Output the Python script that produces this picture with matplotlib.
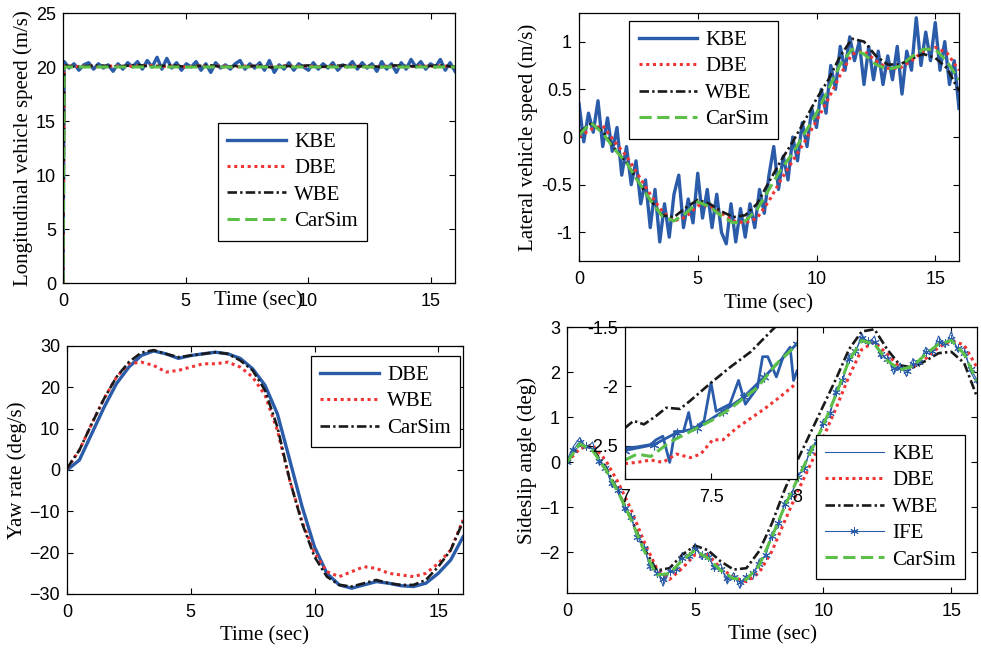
import numpy as np
import matplotlib
matplotlib.use("Agg")
import matplotlib.pyplot as plt

# colours picked off the figure
BLUE = "#2a5caa"
RED = "#f03434"
BLACK = "#1a1a1a"
GREEN = "#5cbf48"

SERIF = "Liberation Serif"
SANS = "Liberation Sans"

# ---------- data: longitudinal speed (m/s) ----------
t_long_kbe = np.r_[0.0, np.linspace(0.05, 16, 81)]
long_kbe = [0.0,
            20.5, 19.9, 20.3, 19.7, 20.2, 20.4, 19.8, 20.3, 19.9, 20.2,
            19.6, 20.3, 19.8, 20.4, 20.0, 20.5, 19.8, 20.6, 20.0, 20.9,
            19.8, 20.8, 19.9, 20.4, 19.7, 20.3, 20.0, 20.5, 19.7, 20.3,
            19.5, 20.4, 19.9, 20.2, 19.8, 20.3, 20.6, 19.8, 20.3, 19.9,
            20.4, 19.7, 20.6, 19.5, 20.2, 19.8, 20.4, 19.7, 20.3, 20.0,
            19.7, 20.4, 19.8, 20.3, 19.9, 20.4, 19.7, 20.2, 20.0, 20.5,
            19.8, 20.4, 19.9, 20.3, 19.6, 20.5, 19.8, 20.3, 19.5, 20.4,
            19.8, 20.7, 20.0, 20.5, 19.8, 20.3, 20.0, 20.7, 19.7, 20.4, 19.6]
t_long = np.r_[0.0, np.linspace(0.05, 16, 33)]
long_dbe = [0.0, 20.1, 20.05, 20.1, 20.0, 20.1, 20.05, 20.1, 20.15, 20.05, 20.1, 20.0,
            20.1, 20.05, 20.1, 20.0, 20.1, 20.05, 20.0, 20.1, 20.05, 20.1, 20.0,
            20.1, 20.05, 20.1, 20.0, 20.05, 20.1, 20.0, 20.1, 20.05, 20.1, 20.0]
long_wbe = [0.0, 20.15, 20.0, 20.1, 20.15, 20.05, 20.1, 20.2, 20.05, 20.1, 20.15, 20.0,
            20.1, 20.15, 20.0, 20.1, 20.05, 20.15, 19.95, 20.1, 20.05, 20.15, 20.0,
            20.1, 20.15, 20.05, 20.1, 20.0, 20.15, 20.1, 20.05, 20.1, 20.15, 20.0]
long_carsim = [0.0, 20.0, 20.0, 20.0, 20.0, 20.0, 20.0, 20.0, 20.0, 20.0, 20.0, 20.0,
               20.0, 20.0, 20.0, 20.0, 20.0, 20.0, 20.0, 20.0, 20.0, 20.0, 20.0,
               20.0, 20.0, 20.0, 20.0, 20.0, 20.0, 20.0, 20.0, 20.0, 20.0, 20.0]

# ---------- data: lateral speed (m/s) ----------
t_half = np.linspace(0, 16, 33)
t_kbe = np.linspace(0, 16, 81)
lat_kbe = [0.35, -0.05, 0.25, 0.05, 0.38, -0.1, 0.2, -0.15, 0.1, -0.4,
           -0.1, -0.5, -0.25, -0.7, -0.45, -0.95, -0.55, -1.1, -0.7, -1.05,
           -0.6, -0.4, -0.95, -0.65, -0.9, -0.38, -0.85, -0.55, -0.95, -0.6,
           -1.0, -1.12, -0.7, -1.1, -0.75, -1.05, -0.7, -0.95, -0.55, -0.8,
           -0.4, -0.1, -0.55, -0.2, -0.45, 0.0, -0.25, 0.15, -0.1, 0.3,
           0.1, 0.5, 0.25, 0.75, 0.5, 0.95, 0.7, 1.05, 0.8, 1.0,
           0.55, 0.95, 0.6, 0.9, 0.55, 0.85, 0.6, 0.95, 0.45, 0.9,
           0.7, 1.25, 0.75, 1.1, 0.8, 1.2, 0.7, 1.0, 0.55, 0.8, 0.3]
lat_dbe = [0.0, 0.08, 0.12, -0.05, -0.2, -0.4, -0.6, -0.78, -0.88, -0.84, -0.72,
           -0.72, -0.8, -0.88, -0.9, -0.85, -0.67, -0.45, -0.25, -0.05, 0.17,
           0.4, 0.65, 0.87, 0.9, 0.8, 0.72, 0.72, 0.8, 0.9, 0.94, 0.88, 0.7]
lat_wbe = [0.05, 0.14, 0.06, -0.12, -0.27, -0.47, -0.66, -0.82, -0.84, -0.74, -0.66,
           -0.7, -0.78, -0.84, -0.82, -0.7, -0.47, -0.25, -0.05, 0.17, 0.4,
           0.6, 0.85, 1.03, 1.0, 0.85, 0.76, 0.76, 0.82, 0.87, 0.83, 0.72, 0.48]
lat_carsim = [0.02, 0.15, 0.04, -0.13, -0.27, -0.47, -0.66, -0.83, -0.88, -0.8, -0.68,
              -0.73, -0.83, -0.9, -0.88, -0.76, -0.55, -0.34, -0.17, 0.04, 0.25,
              0.5, 0.76, 0.92, 0.87, 0.76, 0.71, 0.74, 0.84, 0.92, 0.92, 0.79, 0.6]

# ---------- data: yaw rate (deg/s) ----------
yaw_dbe = [0.0, 2.4, 8.8, 15.2, 20.9, 24.9, 27.7, 28.8, 28.1, 27.0, 27.7,
           28.1, 28.5, 28.1, 27.0, 24.5, 20.5, 13.6, 2.4, -8.9, -18.6,
           -25.0, -27.8, -28.6, -27.8, -27.0, -27.4, -28.0, -28.2, -27.4, -25.0, -21.8, -16.2]
yaw_wbe = [0.4, 4.8, 11.2, 17.3, 22.5, 25.7, 26.1, 25.3, 23.7, 24.1, 24.9,
           25.7, 25.7, 26.1, 24.9, 22.5, 18.1, 9.6, -2.5, -12.5, -20.1,
           -24.6, -25.8, -24.6, -23.4, -23.8, -25.0, -25.4, -25.8, -25.0, -22.6, -19.4, -12.1]
yaw_carsim = [0.4, 4.8, 11.2, 17.3, 22.5, 26.1, 28.4, 29.0, 28.1, 27.3, 27.7,
              28.1, 28.5, 28.1, 26.5, 24.1, 19.3, 10.4, -2.5, -12.9, -21.0,
              -25.8, -27.8, -28.2, -27.4, -26.6, -27.4, -27.8, -27.8, -26.6, -23.4, -19.4, -12.5]

# ---------- data: sideslip angle (deg) ----------
t_quarter = np.linspace(0, 16, 65)
slip_kbe = [0.05, 0.35, 0.55, 0.3, 0.45, -0.05, -0.05, -0.55, -0.55, -1.1,
            -1.15, -1.75, -1.8, -2.4, -2.35, -2.75, -2.4, -2.45, -2.0, -2.15,
            -1.8, -2.15, -2.0, -2.4, -2.25, -2.7, -2.45, -2.8, -2.5, -2.6,
            -2.15, -2.1, -1.55, -1.45, -0.85, -0.8, -0.25, -0.2, 0.35, 0.4,
            0.95, 1.0, 1.65, 1.75, 2.4, 2.4, 2.85, 2.6, 2.8, 2.3,
            2.4, 1.95, 2.2, 1.9, 2.3, 2.15, 2.55, 2.4, 2.8, 2.55,
            2.9, 2.45, 2.55, 2.0, 1.75]
slip_ife = [0.0, 0.28, 0.45, 0.35, 0.3, 0.02, -0.12, -0.45, -0.62, -1.02,
            -1.22, -1.65, -1.9, -2.3, -2.45, -2.6, -2.42, -2.36, -2.12, -2.08,
            -1.92, -2.06, -2.1, -2.32, -2.37, -2.56, -2.55, -2.66, -2.55, -2.45,
            -2.25, -2.05, -1.64, -1.35, -0.93, -0.72, -0.33, -0.12, 0.26, 0.47,
            0.86, 1.1, 1.55, 1.83, 2.3, 2.47, 2.75, 2.68, 2.66, 2.4,
            2.28, 2.08, 2.08, 2.02, 2.17, 2.22, 2.44, 2.47, 2.66, 2.64,
            2.73, 2.53, 2.43, 2.07, 1.83]
slip_dbe = [0.0, 0.3, 0.38, 0.05, -0.45, -1.05, -1.75, -2.35, -2.6, -2.35, -2.05,
            -2.05, -2.35, -2.55, -2.65, -2.45, -1.97, -1.3, -0.65, -0.05, 0.55,
            1.2, 1.9, 2.5, 2.67, 2.4, 2.1, 2.1, 2.3, 2.55, 2.7, 2.6, 2.1]
slip_wbe = [0.0, 0.4, 0.3, -0.1, -0.65, -1.25, -1.9, -2.4, -2.35, -2.05, -1.85,
            -1.95, -2.2, -2.38, -2.35, -1.97, -1.35, -0.6, 0.05, 0.65, 1.25,
            1.85, 2.5, 2.9, 2.95, 2.5, 2.15, 2.1, 2.25, 2.42, 2.45, 2.2, 1.45]
slip_carsim = [0.0, 0.41, 0.26, -0.15, -0.67, -1.27, -1.95, -2.5, -2.47, -2.17, -1.95,
               -2.13, -2.4, -2.58, -2.6, -2.29, -1.65, -0.97, -0.37, 0.22, 0.82,
               1.5, 2.25, 2.7, 2.62, 2.25, 2.05, 2.13, 2.4, 2.62, 2.7, 2.4, 1.8]

# zoomed window 7-8 s
ins_t_kbe = [7.0, 7.07, 7.15, 7.18, 7.22, 7.26, 7.29, 7.34, 7.37, 7.39, 7.46, 7.5,
             7.53, 7.61, 7.66, 7.7, 7.77, 7.8, 7.83, 7.88, 7.92, 7.96, 7.98, 8.0]
ins_kbe = [-2.52, -2.51, -2.49, -2.45, -2.42, -2.64, -2.38, -2.38, -2.22, -2.37, -2.29, -1.97,
           -2.21, -2.15, -1.95, -2.15, -2.01, -1.75, -1.75, -1.92, -1.75, -1.67, -1.95, -1.87]
ins_t_ife = [7.0, 7.17, 7.3, 7.42, 7.57, 7.69, 7.81, 8.0]
ins_ife = [-2.54, -2.49, -2.39, -2.35, -2.21, -2.09, -1.92, -1.64]
ins_t_dbe = [7.0, 7.07, 7.15, 7.22, 7.3, 7.38, 7.44, 7.51, 7.57, 7.65, 7.73, 7.81, 7.9, 8.0]
ins_dbe = [-2.65, -2.64, -2.62, -2.64, -2.57, -2.6, -2.57, -2.45, -2.45, -2.35, -2.27, -2.19, -2.09, -1.97]
ins_t_wbe = [7.0, 7.05, 7.11, 7.18, 7.24, 7.32, 7.38, 7.5, 7.61, 7.73, 7.88, 8.0]
ins_wbe = [-2.35, -2.29, -2.32, -2.25, -2.18, -2.19, -2.12, -1.97, -1.84, -1.71, -1.49, -1.35]
ins_t_carsim = [7.0, 7.07, 7.15, 7.26, 7.38, 7.5, 7.61, 7.77, 7.88, 8.0]
ins_carsim = [-2.62, -2.57, -2.59, -2.47, -2.38, -2.29, -2.19, -2.01, -1.81, -1.65]

DASHDOT = (0, (3.6, 1.2, 0.9, 1.2))
DASHED = (0, (4, 1.8))
DOTTED = (0, (1, 1.2))

W, H = 981, 648
fig = plt.figure(figsize=(W / 100, H / 100), dpi=100)


def make_axes(left, top, right, bottom):
    return fig.add_axes([left / W, 1 - bottom / H, (right - left) / W, (bottom - top) / H])


def style(ax):
    ax.tick_params(direction="in", top=True, right=True, length=4, width=0.8,
                   labelsize=13)
    ax.tick_params(axis="x", pad=7)
    ax.tick_params(axis="y", pad=5)
    for lab in ax.get_xticklabels() + ax.get_yticklabels():
        lab.set_fontfamily(SANS)
    for sp in ax.spines.values():
        sp.set_linewidth(0.9)


def legend(ax, x, y):
    leg = ax.legend(loc="upper left", bbox_to_anchor=(x, y), borderaxespad=0,
                    prop={"family": SERIF, "size": 15}, fancybox=False,
                    edgecolor="black", framealpha=1, handlelength=2.8,
                    labelspacing=0.33, handletextpad=0.4, borderpad=0.45)
    leg.get_frame().set_linewidth(0.9)


# top left
ax1 = make_axes(63, 13, 455, 283)
ax1.plot(t_long_kbe, long_kbe, color=BLUE, lw=2.4, label="KBE")
ax1.plot(t_long, long_dbe, color=RED, lw=2.2, linestyle=DOTTED, label="DBE")
ax1.plot(t_long, long_wbe, color=BLACK, lw=1.9, linestyle=DASHDOT, label="WBE")
ax1.plot(t_long, long_carsim, color=GREEN, lw=2.2, linestyle=DASHED, label="CarSim")
ax1.set_xlim(0, 16)
ax1.set_ylim(0, 25)
ax1.set_xticks([0, 5, 10, 15])
ax1.set_yticks([0, 5, 10, 15, 20, 25])
ax1.set_xlabel("Time (sec)", family=SERIF, fontsize=15)
ax1.xaxis.set_label_coords(0.5, -0.03)
ax1.set_ylabel("Longitudinal vehicle speed (m/s)", family=SERIF, fontsize=15, labelpad=2)
style(ax1)
legend(ax1, 0.395, 0.593)

# top right
ax2 = make_axes(579, 13, 959, 261)
ax2.plot(t_kbe, lat_kbe, color=BLUE, lw=2.4, label="KBE")
ax2.plot(t_half, lat_dbe, color=RED, lw=2.2, linestyle=DOTTED, label="DBE")
ax2.plot(t_half, lat_wbe, color=BLACK, lw=1.9, linestyle=DASHDOT, label="WBE")
ax2.plot(t_half, lat_carsim, color=GREEN, lw=2.2, linestyle=DASHED, label="CarSim")
ax2.set_xlim(0, 16)
ax2.set_ylim(-1.3, 1.3)
ax2.set_xticks([0, 5, 10, 15])
ax2.set_yticks([-1, -0.5, 0, 0.5, 1])
ax2.set_yticklabels(["-1", "-0.5", "0", "0.5", "1"])
ax2.set_xlabel("Time (sec)", family=SERIF, fontsize=15, labelpad=5)
ax2.set_ylabel("Lateral vehicle speed (m/s)", family=SERIF, fontsize=15, labelpad=2)
style(ax2)
legend(ax2, 0.132, 0.968)

# bottom left
ax3 = make_axes(67, 346, 463, 594)
ax3.plot(t_half, yaw_dbe, color=BLUE, lw=2.4, label="DBE")
ax3.plot(t_half, yaw_wbe, color=RED, lw=2.2, linestyle=DOTTED, label="WBE")
ax3.plot(t_half, yaw_carsim, color=BLACK, lw=1.9, linestyle=DASHDOT, label="CarSim")
ax3.set_xlim(0, 16)
ax3.set_ylim(-30, 30)
ax3.set_xticks([0, 5, 10, 15])
ax3.set_yticks([-30, -20, -10, 0, 10, 20, 30])
ax3.set_xlabel("Time (sec)", family=SERIF, fontsize=15, labelpad=4)
ax3.set_ylabel("Yaw rate (deg/s)", family=SERIF, fontsize=15, labelpad=2)
style(ax3)
legend(ax3, 0.616, 0.96)

# bottom right
ax4 = make_axes(567, 327, 977, 593)
ax4.plot(t_quarter, slip_kbe, color=BLUE, lw=0.8, label="KBE")
ax4.plot(t_half, slip_dbe, color=RED, lw=2.2, linestyle=DOTTED, label="DBE")
ax4.plot(t_half, slip_wbe, color=BLACK, lw=1.9, linestyle=DASHDOT, label="WBE")
ax4.plot(t_quarter, slip_ife, color=BLUE, lw=0.8, marker=(6, 2, 0), markersize=6,
         markeredgewidth=0.7, label="IFE")
ax4.plot(t_half, slip_carsim, color=GREEN, lw=2.2, linestyle=DASHED, label="CarSim")
ax4.set_xlim(0, 16)
ax4.set_ylim(-2.9, 3)
ax4.set_xticks([0, 5, 10, 15])
ax4.set_yticks([-2, -1, 0, 1, 2, 3])
ax4.set_xlabel("Time (sec)", family=SERIF, fontsize=15, labelpad=4)
ax4.set_ylabel("Sideslip angle (deg)", family=SERIF, fontsize=15, labelpad=2)
style(ax4)
legend(ax4, 0.607, 0.594)

# inset zoom 7-8 s
axi = make_axes(625, 327, 797, 479)
axi.plot(ins_t_kbe, ins_kbe, color=BLUE, lw=2.0)
axi.plot(ins_t_ife, ins_ife, color=BLUE, lw=2.0, marker=(6, 2, 0), markersize=7,
         markeredgewidth=0.8)
axi.plot(ins_t_dbe, ins_dbe, color=RED, lw=2.2, linestyle=DOTTED)
axi.plot(ins_t_wbe, ins_wbe, color=BLACK, lw=1.9, linestyle=DASHDOT)
axi.plot(ins_t_carsim, ins_carsim, color=GREEN, lw=2.2, linestyle=DASHED)
axi.set_xlim(7, 8)
axi.set_ylim(-2.78, -1.5)
axi.set_xticks([7, 7.5, 8])
axi.set_xticklabels(["7", "7.5", "8"])
axi.set_yticks([-2.5, -2, -1.5])
axi.set_yticklabels(["-2.5", "-2", "-1.5"])
style(axi)
axi.tick_params(top=False, right=False)
axi.set_facecolor("white")

fig.savefig("out.png", dpi=100)
